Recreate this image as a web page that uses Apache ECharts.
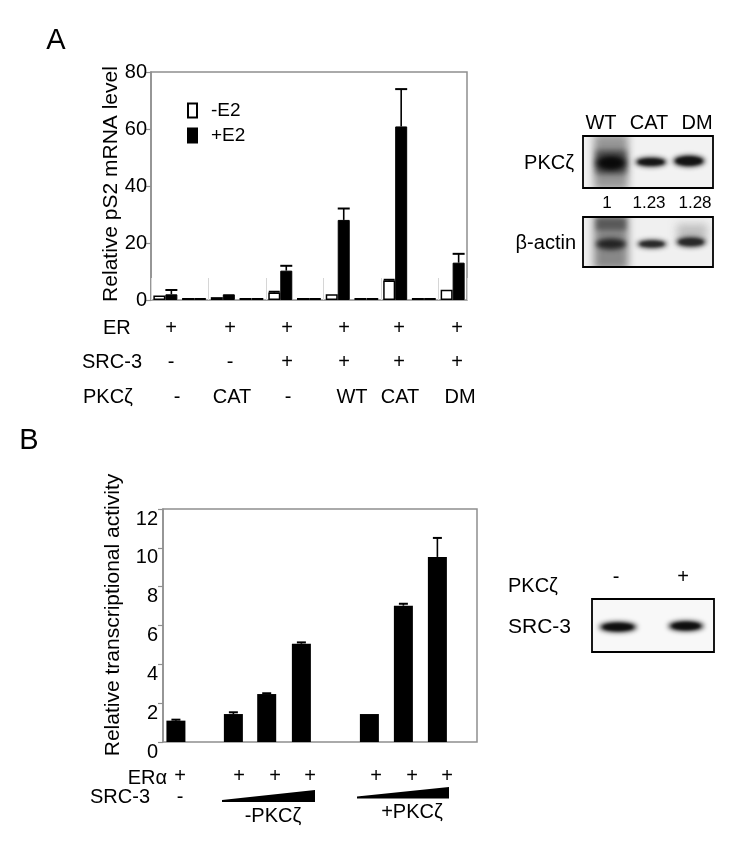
<!DOCTYPE html>
<html><head><meta charset="utf-8">
<script src="https://cdn.jsdelivr.net/npm/echarts@6/dist/echarts.min.js"></script>
<style>html,body{margin:0;padding:0;background:#fff}#c{width:750px;height:851px}</style>
</head><body><div id="c"></div>
<script>
// ---------- Panel A data ----------
const groupsA = ['G1', 'G2', 'G3', 'G4', 'G5', 'G6'];
const minusE2 = [1.6, 1.0, 2.6, 2.0, 6.8, 3.6];
const minusE2Err = [0, 0, 0.3, 0, 0.3, 0];
const plusE2 = [2.0, 2.0, 10.3, 28.1, 60.9, 13.1];
const plusE2Err = [1.5, 0, 1.7, 4.0, 13.1, 3.1];
const ticksA = [0, 20, 40, 60, 80];
const rowER = ['+', '+', '+', '+', '+', '+'];
const rowSRC3 = ['-', '-', '+', '+', '+', '+'];
const rowPKC = ['-', 'CAT', '-', 'WT', 'CAT', 'DM'];
const blotLanesA = ['WT', 'CAT', 'DM'];
const blotRatiosA = ['1', '1.23', '1.28'];

// ---------- Panel B data ----------
const lanePosB = [0.38, 2.07, 3.05, 4.07, 6.07, 7.07, 8.07];
const activity = [1.10, 1.44, 2.47, 5.06, 1.44, 7.02, 9.53];
const activityErr = [0.05, 0.09, 0.04, 0.07, 0, 0.10, 0.98];
const ticksB = [0, 2, 4, 6, 8, 10, 12];
const rowERa = ['+', '+', '+', '+', '+', '+', '+'];
const blotLanesB = ['-', '+'];

// ---------- styles / layout ----------
const FONT = 'Liberation Sans, Arial, sans-serif';
const FRAME = '#8f8f8f';
const OFF = 2000; // draw blot shapes off-canvas and keep only their blurred shadow

const catsA = [];
groupsA.forEach((g, i) => { catsA.push(g); if (i < groupsA.length - 1) catsA.push('gap' + i); });
const withGaps = arr => { const o = []; arr.forEach((v, i) => { o.push(v); if (i < arr.length - 1) o.push(0); }); return o; };
const catIndex = i => i * 2;

function errSeries(xi, yi, data, offset, capW) {
  return {
    type: 'custom', xAxisIndex: xi, yAxisIndex: yi, z: 5, silent: true,
    encode: { x: 0, y: 1 },
    renderItem(params, api) {
      const x = api.value(0), y = api.value(1), e = api.value(2);
      if (!e) return null;
      const p0 = api.coord([x, y]); const p1 = api.coord([x, y + e]);
      const cx = p0[0] + offset;
      return { type: 'group', children: [
        { type: 'line', shape: { x1: cx, y1: p0[1], x2: cx, y2: p1[1] }, style: { stroke: '#000', lineWidth: 1.6 } },
        { type: 'line', shape: { x1: cx - capW / 2, y1: p1[1], x2: cx + capW / 2, y2: p1[1] }, style: { stroke: '#000', lineWidth: 2 } }
      ] };
    },
    data
  };
}

function txt(x, y, s, size, align, extra) {
  return Object.assign({ type: 'text', x, y, silent: true, z: 20,
    style: { text: s, fontSize: size, fontFamily: FONT, fill: '#000', align: align || 'center', verticalAlign: 'middle' } }, extra || {});
}
function band(cx, cy, rx, ry, col, blur) {
  return { type: 'ellipse', silent: true, z: 2, shape: { cx: cx + OFF, cy, rx, ry },
    style: { fill: col, shadowBlur: blur, shadowColor: col, shadowOffsetX: -OFF } };
}
function smear(x, y, w, h, col, blur) {
  return { type: 'rect', silent: true, z: 1, shape: { x: x + OFF, y, width: w, height: h },
    style: { fill: '#777', shadowBlur: blur, shadowColor: col, shadowOffsetX: -OFF } };
}
function panelBg(x, y, w, h, col) {
  return { type: 'rect', silent: true, z: 0, shape: { x, y, width: w, height: h }, style: { fill: col } };
}
function box(x, y, w, h) {
  return { type: 'rect', silent: true, z: 10, shape: { x, y, width: w, height: h }, style: { fill: 'none', stroke: '#000', lineWidth: 1.8 } };
}
function clipGroup(x, y, w, h, children) {
  return { type: 'group', silent: true, children: [{ type: 'group', silent: true, children,
    clipPath: { type: 'rect', shape: { x, y, width: w, height: h } } }] };
}

const graphics = [];
graphics.push(txt(56, 41, 'A', 29));
graphics.push(txt(29, 441, 'B', 29));
graphics.push(txt(111, 184, 'Relative pS2 mRNA level', 21, 'center', { rotation: Math.PI / 2 }));
graphics.push(txt(113, 615, 'Relative transcriptional activity', 21, 'center', { rotation: Math.PI / 2 }));

// Panel A condition rows
const rowXA = [171, 230, 287, 344, 399, 457];
const rowXPKC = [177, 232, 288, 352, 400, 460];
graphics.push(txt(103, 328, 'ER', 20, 'left'));
graphics.push(txt(82, 362, 'SRC-3', 20, 'left'));
graphics.push(txt(83, 397, 'PKCζ', 20, 'left'));
rowER.forEach((s, i) => graphics.push(txt(rowXA[i], 328, s, 20)));
rowSRC3.forEach((s, i) => graphics.push(txt(rowXA[i], 362, s, 20)));
rowPKC.forEach((s, i) => graphics.push(txt(rowXPKC[i], 397, s, 20)));

// Panel B condition rows
const rowXB = [180, 239, 275, 310, 376, 412, 447];
graphics.push(txt(167, 778, 'ERα', 20, 'right'));
graphics.push(txt(150, 797, 'SRC-3', 20, 'right'));
rowERa.forEach((s, i) => graphics.push(txt(rowXB[i], 776, s, 20)));
graphics.push(txt(rowXB[0], 797, '-', 20));
graphics.push({ type: 'polygon', silent: true, shape: { points: [[222, 802], [315, 802], [315, 790], [222, 800]] }, style: { fill: '#000' } });
graphics.push({ type: 'polygon', silent: true, shape: { points: [[357, 798.5], [449, 798.5], [449, 787], [357, 796.5]] }, style: { fill: '#000' } });
graphics.push(txt(273, 816, '-PKCζ', 20));
graphics.push(txt(412, 812, '+PKCζ', 20));

// Blot A labels
const laneXA = [601, 649, 697];
blotLanesA.forEach((s, i) => graphics.push(txt(laneXA[i], 123, s, 20)));
const ratioX = [607, 649, 695];
blotRatiosA.forEach((s, i) => graphics.push(txt(ratioX[i], 203, s, 17)));
graphics.push(txt(574, 163, 'PKCζ', 20, 'right'));
graphics.push(txt(576, 243, 'β-actin', 20, 'right'));

// PKCzeta blot
graphics.push(panelBg(583, 136, 130, 52, '#f2f2f2'));
graphics.push(clipGroup(584, 137, 128, 50, [
  smear(594, 134, 34, 56, 'rgba(120,120,120,0.75)', 8),
  smear(596, 150, 30, 24, 'rgba(70,70,70,0.9)', 6),
  band(611, 163, 15, 7, 'rgba(20,20,20,1)', 6),
  band(611, 163, 11, 5, 'rgba(10,10,10,1)', 4),
  band(651, 162, 16, 4.5, 'rgba(30,30,30,1)', 5),
  band(651, 162, 13, 3, 'rgba(20,20,20,1)', 3),
  band(689, 161, 16, 5.5, 'rgba(30,30,30,1)', 5),
  band(689, 161, 13, 4, 'rgba(20,20,20,1)', 3)
]));
graphics.push(box(583, 136, 130, 52));

// beta-actin blot
graphics.push(panelBg(583, 217, 130, 50, '#f0f0f0'));
graphics.push(clipGroup(584, 218, 128, 48, [
  smear(594, 214, 34, 56, 'rgba(110,110,110,0.8)', 8),
  smear(596, 218, 30, 12, 'rgba(70,70,70,0.7)', 5),
  band(611, 244, 15, 5.5, 'rgba(35,35,35,1)', 5),
  band(652, 244, 15, 4, 'rgba(45,45,45,1)', 5),
  band(652, 244, 12, 2.5, 'rgba(40,40,40,1)', 3),
  smear(677, 224, 30, 16, 'rgba(170,170,170,0.7)', 8),
  band(691, 242, 15, 5, 'rgba(45,45,45,1)', 5),
  band(691, 242, 12, 3, 'rgba(40,40,40,1)', 3)
]));
graphics.push(box(583, 217, 130, 50));

// Blot B
const laneXB = [616, 683];
blotLanesB.forEach((s, i) => graphics.push(txt(laneXB[i], 577, s, 20)));
graphics.push(txt(508, 586, 'PKCζ', 20, 'left'));
graphics.push(txt(508, 627, 'SRC-3', 21, 'left'));
graphics.push(panelBg(592, 599, 122, 53, '#f8f8f8'));
graphics.push(clipGroup(593, 600, 120, 51, [
  band(618, 627, 19, 5, 'rgba(30,30,30,1)', 5),
  band(618, 627, 15, 3.5, 'rgba(15,15,15,1)', 3),
  band(686, 626, 18, 5, 'rgba(30,30,30,1)', 5),
  band(686, 626, 14, 3.5, 'rgba(15,15,15,1)', 3)
]));
graphics.push(box(592, 599, 122, 53));

const chart = echarts.init(document.getElementById('c'), null, { renderer: 'canvas' });
chart.setOption({
  animation: false,
  backgroundColor: '#fff',
  textStyle: { fontFamily: FONT },
  grid: [
    { left: 151, top: 72, width: 316, height: 228, show: true, borderColor: FRAME, borderWidth: 1.5 },
    { left: 163, top: 509, width: 314, height: 233, show: true, borderColor: FRAME, borderWidth: 1.5 }
  ],
  legend: {
    data: ['-E2', '+E2'], orient: 'vertical', left: 187, top: 101, itemWidth: 9, itemHeight: 14, itemGap: 6,
    icon: 'rect', selectedMode: false, padding: 0, textStyle: { fontSize: 19, color: '#000', padding: [0, 0, 0, 9] }
  },
  xAxis: [
    { type: 'category', gridIndex: 0, data: catsA, axisLine: { show: false },
      axisTick: { show: true, inside: true, length: 22, lineStyle: { color: '#d6d6d6' } },
      axisLabel: { show: false }, splitLine: { show: false } },
    { type: 'value', gridIndex: 1, min: 0, max: 9.235, show: false, splitLine: { show: false } }
  ],
  yAxis: [
    { type: 'value', gridIndex: 0, min: ticksA[0], max: ticksA[ticksA.length - 1], interval: ticksA[1] - ticksA[0],
      axisLine: { show: true, lineStyle: { color: FRAME, width: 1.5 } },
      axisTick: { show: true, length: 5, lineStyle: { color: FRAME, width: 1.2 } },
      axisLabel: { fontSize: 20, color: '#000', margin: 4 }, splitLine: { show: false } },
    { type: 'value', gridIndex: 1, min: ticksB[0], max: ticksB[ticksB.length - 1], interval: ticksB[1] - ticksB[0],
      axisLine: { show: true, lineStyle: { color: FRAME, width: 1.5 } },
      axisTick: { show: true, length: 5, lineStyle: { color: FRAME, width: 1.2 } },
      axisLabel: { fontSize: 20, color: '#000', margin: 5, verticalAlign: 'top' }, splitLine: { show: false } }
  ],
  series: [
    { name: '-E2', type: 'bar', xAxisIndex: 0, yAxisIndex: 0, barWidth: 12, barGap: '0%', barMinHeight: 2,
      data: withGaps(minusE2), itemStyle: { color: '#fff', borderColor: '#000', borderWidth: 1.5 } },
    { name: '+E2', type: 'bar', xAxisIndex: 0, yAxisIndex: 0, barWidth: 12, barGap: '0%', barMinHeight: 2,
      data: withGaps(plusE2), itemStyle: { color: '#000', borderColor: '#000', borderWidth: 1 } },
    errSeries(0, 0, minusE2.map((v, i) => [catIndex(i), v, minusE2Err[i]]), -6, 11),
    errSeries(0, 0, plusE2.map((v, i) => [catIndex(i), v, plusE2Err[i]]), 6, 12),
    { name: 'activity', type: 'bar', xAxisIndex: 1, yAxisIndex: 1, barWidth: 19,
      data: lanePosB.map((x, i) => [x, activity[i]]), itemStyle: { color: '#000' } },
    errSeries(1, 1, lanePosB.map((x, i) => [x, activity[i], activityErr[i]]), 0, 9)
  ],
  graphic: graphics
});
</script>
</body></html>
